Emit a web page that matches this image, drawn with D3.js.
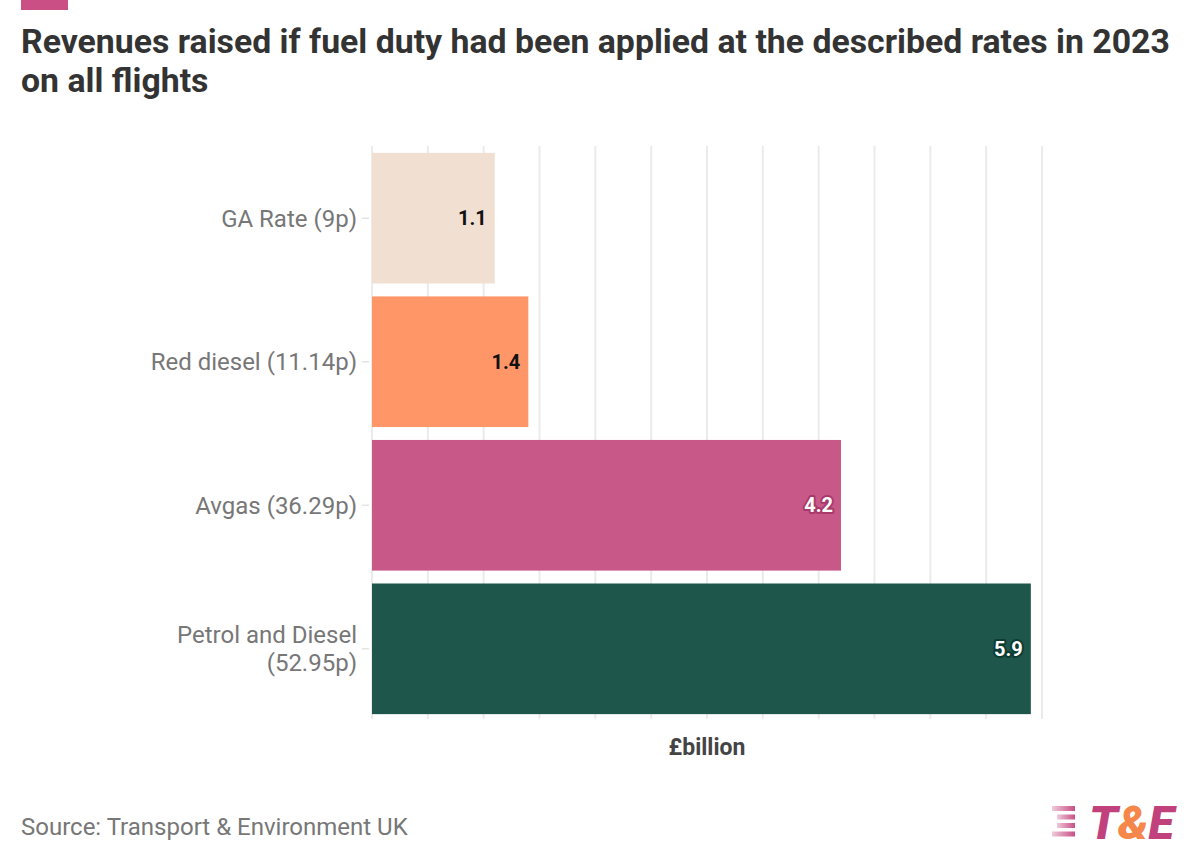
<!DOCTYPE html>
<html>
<head>
<meta charset="utf-8">
<script src="https://cdn.jsdelivr.net/npm/d3@7"></script>
<style>
  body { margin: 0; background: #fff; font-family: Roboto, "Noto Sans", sans-serif; }
  svg { display: block; }
</style>
</head>
<body>
<div id="chart"></div>
<script>
// data
const categories = ["GA Rate (9p)", "Red diesel (11.14p)", "Avgas (36.29p)", "Petrol and Diesel (52.95p)"];
const labelLines = [["GA Rate (9p)"], ["Red diesel (11.14p)"], ["Avgas (36.29p)"], ["Petrol and Diesel", "(52.95p)"]];
const values = [1.1, 1.4, 4.2, 5.9];
const colors = ["#f1dfd1", "#fe9465", "#c65586", "#1a5348"];
const labelColors = ["#111", "#111", "#fff", "#fff"];
const haloColors = ["none", "none", "#a83a6a", "#0c3b31"];
const gridTicks = d3.range(0, 6.01, 0.5);

const width = 1200, height = 867;
const margin = { top: 150, right: 158, bottom: 150, left: 372 };

const svg = d3.select("#chart").append("svg")
  .attr("width", width)
  .attr("height", height);

// accent bar top-left
svg.append("rect")
  .attr("x", 21).attr("y", 0)
  .attr("width", 47).attr("height", 10)
  .attr("fill", "#c94f85");

// title
const title = svg.append("text")
  .attr("x", 21)
  .attr("font-size", 33.8)
  .attr("font-weight", 700)
  .attr("fill", "#333");
title.append("tspan").attr("x", 21).attr("y", 53)
  .text("Revenues raised if fuel duty had been applied at the described rates in 2023");
title.append("tspan").attr("x", 21).attr("y", 92)
  .text("on all flights");

const x = d3.scaleLinear()
  .domain([0, 6])
  .range([margin.left, width - margin.right]);

const y = d3.scaleBand()
  .domain(categories)
  .range([margin.top, height - margin.bottom])
  .paddingInner(0.09)
  .paddingOuter(0.02);

// gridlines
svg.append("g")
  .selectAll("line")
  .data(gridTicks)
  .enter().append("line")
    .attr("x1", d => x(d))
    .attr("x2", d => x(d))
    .attr("y1", margin.top - 4)
    .attr("y2", height - margin.bottom + 2)
    .attr("stroke", "#ebebeb")
    .attr("stroke-width", 2);

// y tick marks
svg.append("g")
  .selectAll("line")
  .data(categories)
  .enter().append("line")
    .attr("x1", margin.left - 10)
    .attr("x2", margin.left - 3)
    .attr("y1", d => y(d) + y.bandwidth() / 2)
    .attr("y2", d => y(d) + y.bandwidth() / 2)
    .attr("stroke", "#e4e4e4")
    .attr("stroke-width", 1.5);

// bars
svg.append("g")
  .selectAll("rect")
  .data(values)
  .enter().append("rect")
    .attr("x", x(0))
    .attr("y", (d, i) => y(categories[i]))
    .attr("width", d => x(d) - x(0))
    .attr("height", y.bandwidth())
    .attr("fill", (d, i) => colors[i])
    .attr("fill-opacity", 0.98);

// value labels
svg.append("g")
  .selectAll("text")
  .data(values)
  .enter().append("text")
    .attr("x", d => x(d) - 8)
    .attr("y", (d, i) => y(categories[i]) + y.bandwidth() / 2)
    .attr("dy", "0.36em")
    .attr("text-anchor", "end")
    .attr("font-size", 20)
    .attr("font-weight", 700)
    .attr("fill", (d, i) => labelColors[i])
    .attr("stroke", (d, i) => haloColors[i])
    .attr("stroke-width", 4)
    .attr("stroke-linejoin", "round")
    .attr("paint-order", "stroke")
    .text(d => d.toFixed(1));

// category labels
const fs = 24;
const cat = svg.append("g")
  .selectAll("text")
  .data(categories)
  .enter().append("text")
    .attr("x", margin.left - 15)
    .attr("y", d => y(d) + y.bandwidth() / 2)
    .attr("text-anchor", "end")
    .attr("font-size", fs)
    .attr("fill", "#777");

cat.each(function(d, i) {
  const lines = labelLines[i];
  const lh = 28;
  const start = -(lines.length - 1) * lh / 2;
  lines.forEach((l, j) => {
    d3.select(this).append("tspan")
      .attr("x", margin.left - 15)
      .attr("dy", j === 0 ? (start / fs + 0.36) + "em" : lh + "px")
      .text(l);
  });
});

// axis title
svg.append("text")
  .attr("x", x(3))
  .attr("y", 755)
  .attr("text-anchor", "middle")
  .attr("font-size", 23)
  .attr("font-weight", 700)
  .attr("fill", "#444")
  .text("£billion");

// source
svg.append("text")
  .attr("x", 21)
  .attr("y", 835)
  .attr("font-size", 24)
  .attr("fill", "#777")
  .text("Source: Transport & Environment UK");

// logo
const logo = svg.append("g");
const defs = svg.append("defs");
const grad = defs.append("linearGradient").attr("id", "stripe");
grad.append("stop").attr("offset", "0%").attr("stop-color", "#c94f85").attr("stop-opacity", 0.3);
grad.append("stop").attr("offset", "100%").attr("stop-color", "#c94f85");
[0, 1, 2, 3].forEach(i => {
  logo.append("rect")
    .attr("x", 1052 + (i === 0 || i === 3 ? 0 : 5))
    .attr("y", 806 + i * 8.5)
    .attr("width", i === 0 || i === 3 ? 23 : 18)
    .attr("height", 5)
    .attr("fill", "url(#stripe)");
});
const lt = logo.append("text")
  .attr("x", 1089)
  .attr("y", 839)
  .attr("font-size", 47)
  .attr("font-weight", 900)
  .attr("font-style", "italic")
  .attr("fill", "#c0417c");
lt.append("tspan").text("T");
lt.append("tspan").attr("fill", "#f5874a").text("&");
lt.append("tspan").text("E");
</script>
</body>
</html>
